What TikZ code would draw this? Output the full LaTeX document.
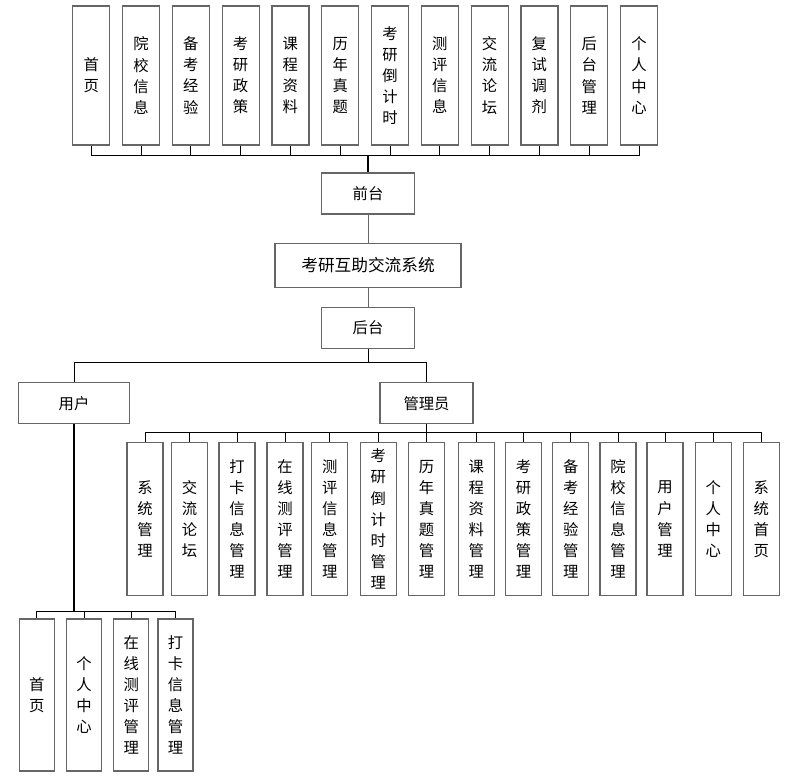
\documentclass[tikz,border=0pt]{standalone}
\usepackage{fontspec}
\newfontfamily\cjk{Noto Sans CJK SC}
\usepackage{tikz}
\usetikzlibrary{positioning,calc}

\begin{document}
\begin{tikzpicture}[
	x=0.75pt, y=-0.75pt,
	box/.style={draw=black!60, line width=0.9pt, fill=white, align=center, inner sep=0pt,
		font=\cjk\fontsize{11.5}{15.8}\selectfont},
	topbox/.style={box, minimum width=37*0.75pt, minimum height=139*0.75pt},
	admbox/.style={box, minimum width=36*0.75pt, minimum height=153*0.75pt},
	usrbox/.style={box, minimum width=35*0.75pt, minimum height=152*0.75pt},
	wide/.style={box, minimum height=41*0.75pt},
	link/.style={line width=0.75pt},
	trunk/.style={line width=1.6pt}
	]
	\useasboundingbox (0,0) rectangle (788,776);

	% front end
	\node[topbox] (t1) at (91.2,75.5) {首\\页};
	\node[topbox] (t2) at (141,75.5) {院\\校\\信\\息};
	\node[topbox] (t3) at (190.8,75.5) {备\\考\\经\\验};
	\node[topbox] (t4) at (240.6,75.5) {考\\研\\政\\策};
	\node[topbox] (t5) at (290.4,75.5) {课\\程\\资\\料};
	\node[topbox] (t6) at (340.2,75.5) {历\\年\\真\\题};
	\node[topbox] (t7) at (390,75.5) {考\\研\\倒\\计\\时};
	\node[topbox] (t8) at (439.8,75.5) {测\\评\\信\\息};
	\node[topbox] (t9) at (489.6,75.5) {交\\流\\论\\坛};
	\node[topbox] (t10) at (539.4,75.5) {复\\试\\调\\剂};
	\node[topbox] (t11) at (589.2,75.5) {后\\台\\管\\理};
	\node[topbox] (t12) at (639,75.5) {个\\人\\中\\心};

	\node[wide, minimum width=93*0.75pt] (qt) at (368,193.5) {前台};
	\node[box, minimum width=186*0.75pt, minimum height=44*0.75pt,
		font=\cjk\fontsize{12.5}{15}\selectfont] (sys) at (368,265.3) {考研互助交流系统};
	\node[wide, minimum width=93*0.75pt] (ht) at (368,328) {后台};
	\node[wide, minimum width=111*0.75pt] (yh) at (74,403.3) {用户};
	\node[wide, minimum width=93*0.75pt] (gly) at (426.5,403.3) {管理员};

	% admin
	\node[admbox] (a1) at (145,519) {系\\统\\管\\理};
	\node[admbox] (a2) at (189.5,519) {交\\流\\论\\坛};
	\node[admbox] (a3) at (237,519) {打\\卡\\信\\息\\管\\理};
	\node[admbox] (a4) at (285,519) {在\\线\\测\\评\\管\\理};
	\node[admbox] (a5) at (329.7,519) {测\\评\\信\\息\\管\\理};
	\node[admbox] (a6) at (378.3,519) {考\\研\\倒\\计\\时\\管\\理};
	\node[admbox] (a7) at (426.5,519) {历\\年\\真\\题\\管\\理};
	\node[admbox] (a8) at (476.3,519) {课\\程\\资\\料\\管\\理};
	\node[admbox] (a9) at (523.5,519) {考\\研\\政\\策\\管\\理};
	\node[admbox] (a10) at (570.7,519) {备\\考\\经\\验\\管\\理};
	\node[admbox] (a11) at (618,519) {院\\校\\信\\息\\管\\理};
	\node[admbox] (a12) at (665,519) {用\\户\\管\\理};
	\node[admbox] (a13) at (713.3,519) {个\\人\\中\\心};
	\node[admbox] (a14) at (761.3,519) {系\\统\\首\\页};

	% user
	\node[usrbox] (u1) at (36.8,695) {首\\页};
	\node[usrbox] (u2) at (84,695) {个\\人\\中\\心};
	\node[usrbox] (u3) at (131.2,695) {在\\线\\测\\评\\管\\理};
	\node[usrbox] (u4) at (175.5,695) {打\\卡\\信\\息\\管\\理};

	% buses
	\coordinate (qbus) at (368,155);
	\coordinate (hbus) at (368,362.3);
	\coordinate (gbus) at (426.5,432.7);
	\coordinate (ubus) at (74,611);

	\draw[link] (t1.south) |- (qbus);
	\draw[link] (t2.south) |- (qbus);
	\draw[link] (t3.south) |- (qbus);
	\draw[link] (t4.south) |- (qbus);
	\draw[link] (t5.south) |- (qbus);
	\draw[link] (t6.south) |- (qbus);
	\draw[link] (t7.south) |- (qbus);
	\draw[link] (t8.south) |- (qbus);
	\draw[link] (t9.south) |- (qbus);
	\draw[link] (t10.south) |- (qbus);
	\draw[link] (t11.south) |- (qbus);
	\draw[link] (t12.south) |- (qbus);
	\draw[trunk] (qbus) -- (qt.north);

	\draw[link, draw=black!60] (qt.south) -- (sys.north);
	\draw[link, draw=black!60] (sys.south) -- (ht.north);
	\draw[link] (ht.south) -- (hbus);
	\draw[link] (yh.north) |- (hbus);
	\draw[link] (gly.north) |- (hbus);

	\draw[link] (gly.south) -- (gbus);
	\draw[link] (a1.north) |- (gbus);
	\draw[link] (a2.north) |- (gbus);
	\draw[link] (a3.north) |- (gbus);
	\draw[link] (a4.north) |- (gbus);
	\draw[link] (a5.north) |- (gbus);
	\draw[link] (a6.north) |- (gbus);
	\draw[link] (a7.north) |- (gbus);
	\draw[link] (a8.north) |- (gbus);
	\draw[link] (a9.north) |- (gbus);
	\draw[link] (a10.north) |- (gbus);
	\draw[link] (a11.north) |- (gbus);
	\draw[link] (a12.north) |- (gbus);
	\draw[link] (a13.north) |- (gbus);
	\draw[link] (a14.north) |- (gbus);

	\draw[trunk] (yh.south) -- (ubus);
	\draw[link] (u1.north) |- (ubus);
	\draw[link] (u2.north) |- (ubus);
	\draw[link] (u3.north) |- (ubus);
	\draw[link] (u4.north) |- (ubus);
\end{tikzpicture}
\end{document}
